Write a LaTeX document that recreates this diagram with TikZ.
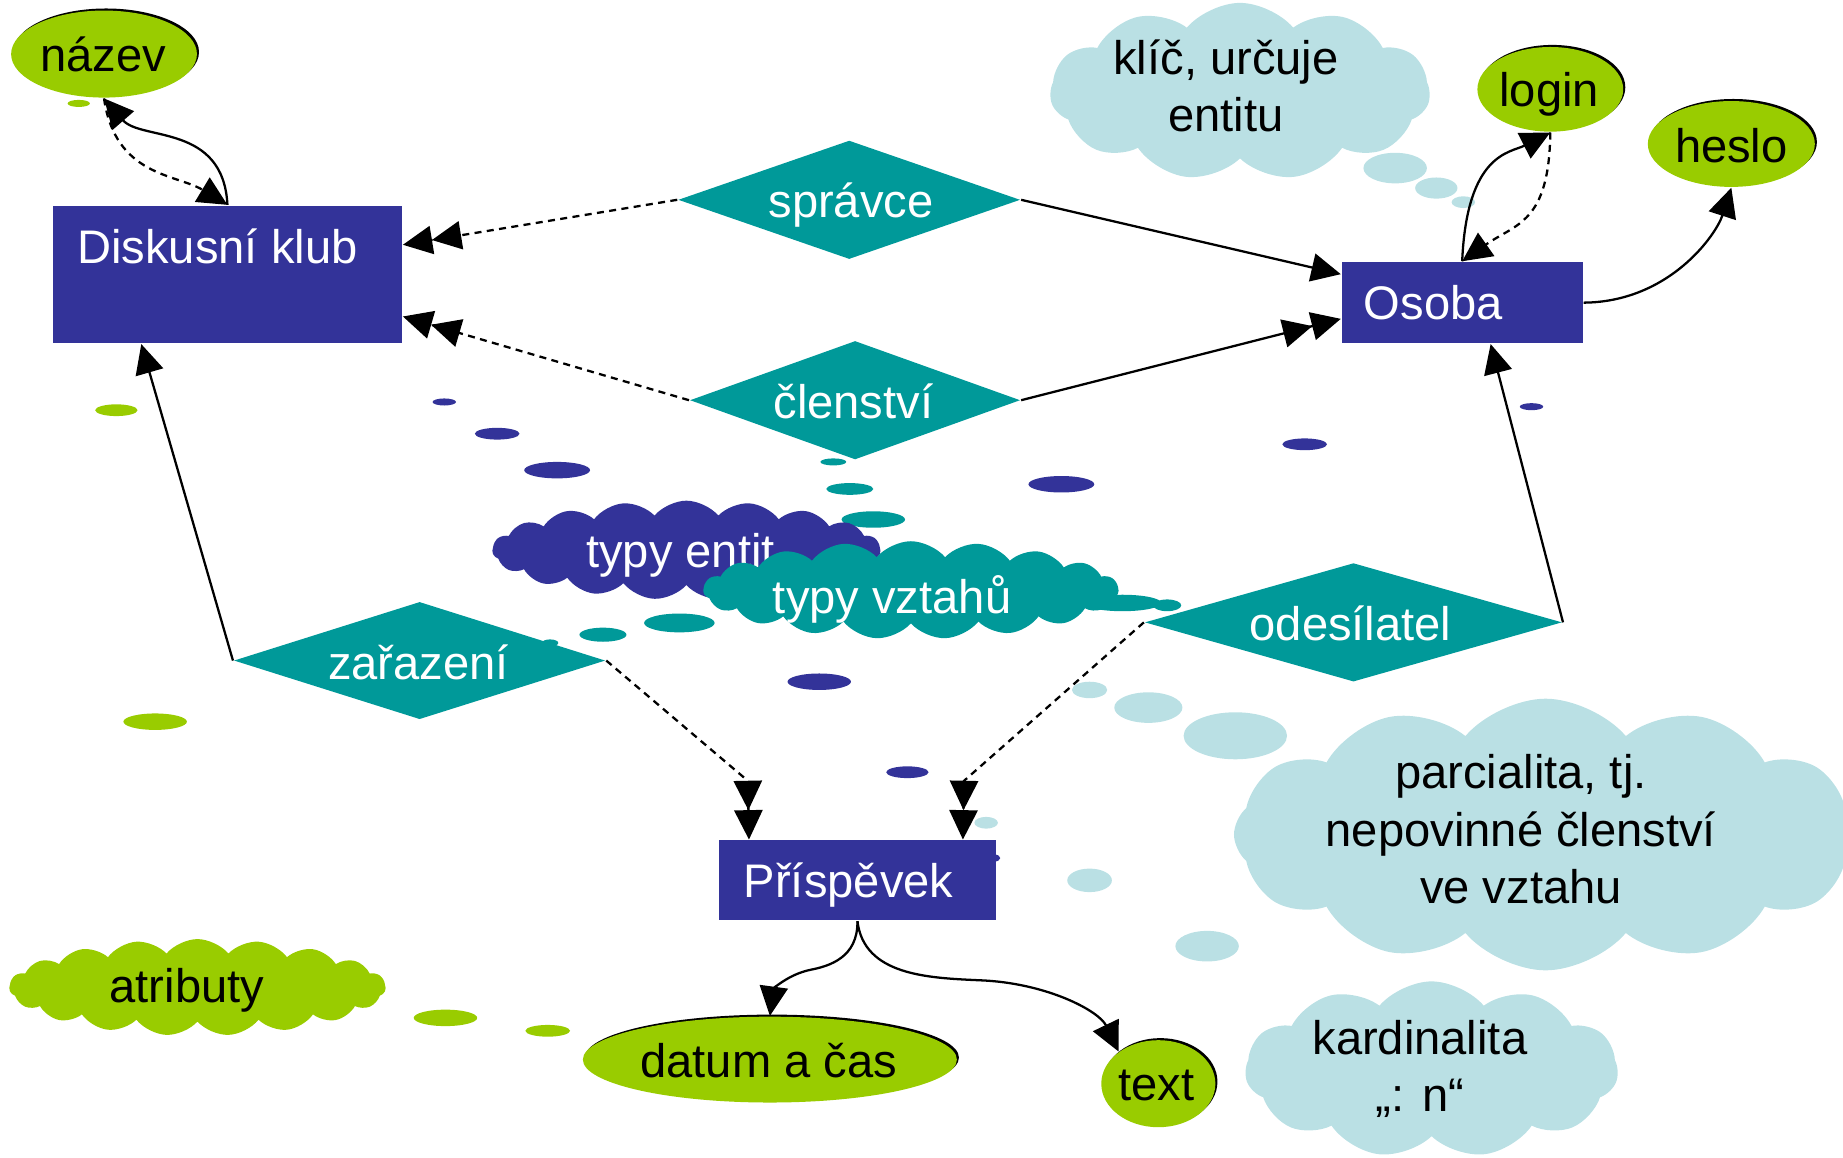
\documentclass[tikz,border=0pt]{standalone}
\usepackage{fontspec}
\setmainfont{Liberation Sans}
\usetikzlibrary{shapes.geometric,shapes.symbols,arrows.meta,calc}

\definecolor{erNavy}{RGB}{51,51,153}
\definecolor{erTeal}{RGB}{0,153,153}
\definecolor{attrGreen}{RGB}{153,204,0}
\definecolor{noteBlue}{RGB}{186,224,228}

\begin{document}
\begin{tikzpicture}[
  x=0.01cm, y=-0.01cm,
  every node/.style={font=\fontsize{11.4}{13.9}\selectfont},
  entity/.style={rectangle, fill=erNavy, inner sep=0pt},
  relation/.style={diamond, fill=erTeal, inner sep=0pt},
  attr/.style={ellipse, fill=attrGreen, inner sep=0pt,
    preaction={fill=black, transform canvas={shift={(0.5pt,0.5pt)}}}},
  note/.style={cloud, cloud puffs=11, cloud puff arc=100, inner sep=0pt},
  flatnote/.style={cloud, cloud puffs=19, cloud puff arc=100, inner sep=0pt},
  wlabel/.style={text=white, anchor=base, inner sep=0pt},
  blabel/.style={text=black, anchor=base, inner sep=0pt, align=center},
  conn/.style={line width=0.55pt, draw=black},
  dashconn/.style={conn, dash pattern=on 1.7pt off 1.3pt},
  oneHead/.style={-{Triangle[length=2.5mm,width=2.4mm]}},
  twoHead/.style={-{Triangle[length=2.5mm,width=2.4mm,sep=0pt]Triangle[length=2.5mm,width=2.4mm]}},
]
\useasboundingbox (0,0) rectangle (1568,985);

% ---- small bubbles ----
\fill[attrGreen] (67,88) ellipse [x radius=9.5, y radius=3];
\fill[attrGreen] (99,349) ellipse [x radius=18, y radius=5];
\fill[attrGreen] (132,614) ellipse [x radius=27, y radius=7];
\fill[attrGreen] (379,866) ellipse [x radius=27, y radius=7];
\fill[attrGreen] (466,877) ellipse [x radius=19, y radius=5];

\fill[erNavy] (378,342) ellipse [x radius=10, y radius=3];
\fill[erNavy] (423,369) ellipse [x radius=19, y radius=5];
\fill[erNavy] (474,400) ellipse [x radius=28, y radius=7];
\fill[erNavy] (903,412) ellipse [x radius=28, y radius=7];
\fill[erNavy] (697,580) ellipse [x radius=27, y radius=7];
\fill[erNavy] (772,657) ellipse [x radius=18, y radius=5];
\fill[erNavy] (1110,378) ellipse [x radius=19, y radius=5];
\fill[erNavy] (1303,346) ellipse [x radius=10, y radius=3];
\fill[erNavy] (846,730) ellipse [x radius=5, y radius=3];

\fill[erTeal] (709,393) ellipse [x radius=11, y radius=3];
\fill[erTeal] (723,416) ellipse [x radius=20, y radius=5];
\fill[erTeal] (743,442) ellipse [x radius=27, y radius=7];
\fill[erTeal] (578,530) ellipse [x radius=30, y radius=8];
\fill[erTeal] (513,540) ellipse [x radius=20, y radius=6];
\fill[erTeal] (468,547) ellipse [x radius=7, y radius=3];
\fill[erTeal] (955,513) ellipse [x radius=33, y radius=7];
\fill[erTeal] (993,515) ellipse [x radius=12, y radius=5];

\fill[noteBlue] (1187,143) ellipse [x radius=27, y radius=13];
\fill[noteBlue] (1222,160) ellipse [x radius=18, y radius=9];
\fill[noteBlue] (1245,172) ellipse [x radius=10, y radius=5];
\fill[noteBlue] (927,587) ellipse [x radius=15, y radius=7];
\fill[noteBlue] (977,602) ellipse [x radius=29, y radius=13];
\fill[noteBlue] (1051,626) ellipse [x radius=44, y radius=20];
\fill[noteBlue] (839,700) ellipse [x radius=10, y radius=5];
\fill[noteBlue] (927,749) ellipse [x radius=19, y radius=10];
\fill[noteBlue] (1027,805) ellipse [x radius=27, y radius=13];

% ---- clouds with notes ----
\node[note, fill=noteBlue, minimum width=3.23cm, minimum height=1.51cm] (keyNote) at (1055,78) {};
\node[blabel] (keyNote-t) at (1043,112) {klíč, určuje\\entitu};

\node[flatnote, fill=erNavy, minimum width=3.3cm, minimum height=0.84cm] (entNote) at (584,468) {};
\node[wlabel] (entNote-t) at (579,483) {typy entit};

\node[flatnote, fill=erTeal, minimum width=3.53cm, minimum height=0.83cm] (relNote) at (775,502) {};
\node[wlabel] (relNote-t) at (759,522) {typy vztahů};

\node[note, fill=noteBlue, cloud puffs=12, minimum width=5.3cm, minimum height=2.31cm] (partNote) at (1315,710) {};
\node[blabel] (partNote-t) at (1294,769) {parcialita, tj.\\nepovinné členství\\ve vztahu};

\node[note, fill=noteBlue, minimum width=3.17cm, minimum height=1.5cm] (cardNote) at (1218,910) {};
\node[blabel] (cardNote-t) at (1208,946) {kardinalita\\„: n“};

\node[flatnote, fill=attrGreen, minimum width=3.2cm, minimum height=0.82cm] (attrNote) at (168,840) {};
\node[blabel] (attrNote-t) at (159,853) {atributy};

% ---- entities ----
\node[entity, minimum width=2.97cm, minimum height=1.17cm] (dk) at (193.5,233.5) {};
\node[entity, minimum width=2.05cm, minimum height=0.69cm] (os) at (1244,257.5) {};
\node[entity, minimum width=2.35cm, minimum height=0.68cm] (pr) at (729.5,749) {};
\node[wlabel] (dk-t) at (185,224) {Diskusní klub};
\node[wlabel] (os-t) at (1219.5,272) {Osoba};
\node[wlabel] (pr-t) at (722,764) {Příspěvek};

% ---- relationships ----
\node[relation, minimum width=2.91cm, minimum height=1.01cm] (spr) at (722.5,170) {};
\node[relation, minimum width=2.81cm, minimum height=1.01cm] (cl) at (727.5,340.5) {};
\node[relation, minimum width=3.16cm, minimum height=1.00cm] (za) at (357,562) {};
\node[relation, minimum width=3.55cm, minimum height=1.01cm] (od) at (1151.5,529.5) {};
\node[wlabel] (spr-t) at (724,185) {správce};
\node[wlabel] (cl-t) at (726,356) {členství};
\node[wlabel] (za-t) at (356,578) {zařazení};
\node[wlabel] (od-t) at (1149,545) {odesílatel};

% ---- attributes ----
\node[attr, minimum width=1.58cm, minimum height=0.74cm] (naz) at (88.5,46) {};
\node[attr, minimum width=1.24cm, minimum height=0.72cm] (login) at (1319,76) {};
\node[attr, minimum width=1.42cm, minimum height=0.73cm] (heslo) at (1473,122.5) {};
\node[attr, minimum width=3.18cm, minimum height=0.73cm] (datum) at (655,901.5) {};
\node[attr, minimum width=0.97cm, minimum height=0.74cm] (txt) at (985.5,922) {};
\node[blabel] (naz-t) at (88,61) {název};
\node[blabel] (login-t) at (1318,91) {login};
\node[blabel] (heslo-t) at (1473,138) {heslo};
\node[blabel] (datum-t) at (654,917) {datum a čas};
\node[blabel] (txt-t) at (984,936) {text};

% ---- connection points on entity borders ----
\coordinate (dk-in1) at ($(dk.north east)+(0,34)$);
\coordinate (dk-in2) at ($(dk.north east)+(0,95)$);
\coordinate (dk-in3) at ($(dk.south west)+(76,0)$);
\coordinate (os-in1) at ($(os.north west)+(0,11)$);
\coordinate (os-in2) at ($(os.north west)+(0,49)$);
\coordinate (os-in3) at ($(os.south west)+(127.5,0)$);
\coordinate (pr-in1) at ($(pr.north west)+(26,0)$);
\coordinate (pr-in2) at ($(pr.north west)+(208,0)$);

% ---- connectors ----
\draw[conn, oneHead] (dk.north) .. controls (190,105) and (120,120) .. (naz.south);
\draw[dashconn, oneHead] (naz.south) .. controls (98,150) and (150,148) .. (dk.north);

\draw[dashconn, twoHead] (spr.west) -- (dk-in1);
\draw[dashconn, twoHead] (cl.west) -- (dk-in2);
\draw[conn, oneHead] (spr.east) -- (os-in1);
\draw[conn, twoHead] (cl.east) -- (os-in2);

\draw[conn, oneHead] (za.west) -- (dk-in3);
\draw[conn, oneHead] (od.east) -- (os-in3);

\draw[dashconn, twoHead] (za.east) -- ($(pr-in1)+(-1,-50)$) -- (pr-in1);
\draw[dashconn, twoHead] (od.west) -- ($(pr-in2)+(1,-50)$) -- (pr-in2);

\draw[conn, oneHead] (os.north) .. controls (1248,130) and (1285,130) .. (login.south);
\draw[dashconn, oneHead] (login.south) .. controls (1318,190) and (1290,190) .. (os.north);
\draw[conn, oneHead] (os.east) .. controls (1420,257) and (1460,200) .. (heslo.south);

\draw[conn, oneHead] (pr.south) .. controls (730,815) and (705,822) .. (690,825)
  .. controls (670,829) and (658,842) .. (datum.north);
\draw[conn, oneHead] (pr.south) .. controls (735,830) and (790,832) .. (833,834)
  .. controls (890,836) and (935,860) .. (txt.141);
\end{tikzpicture}
\end{document}
